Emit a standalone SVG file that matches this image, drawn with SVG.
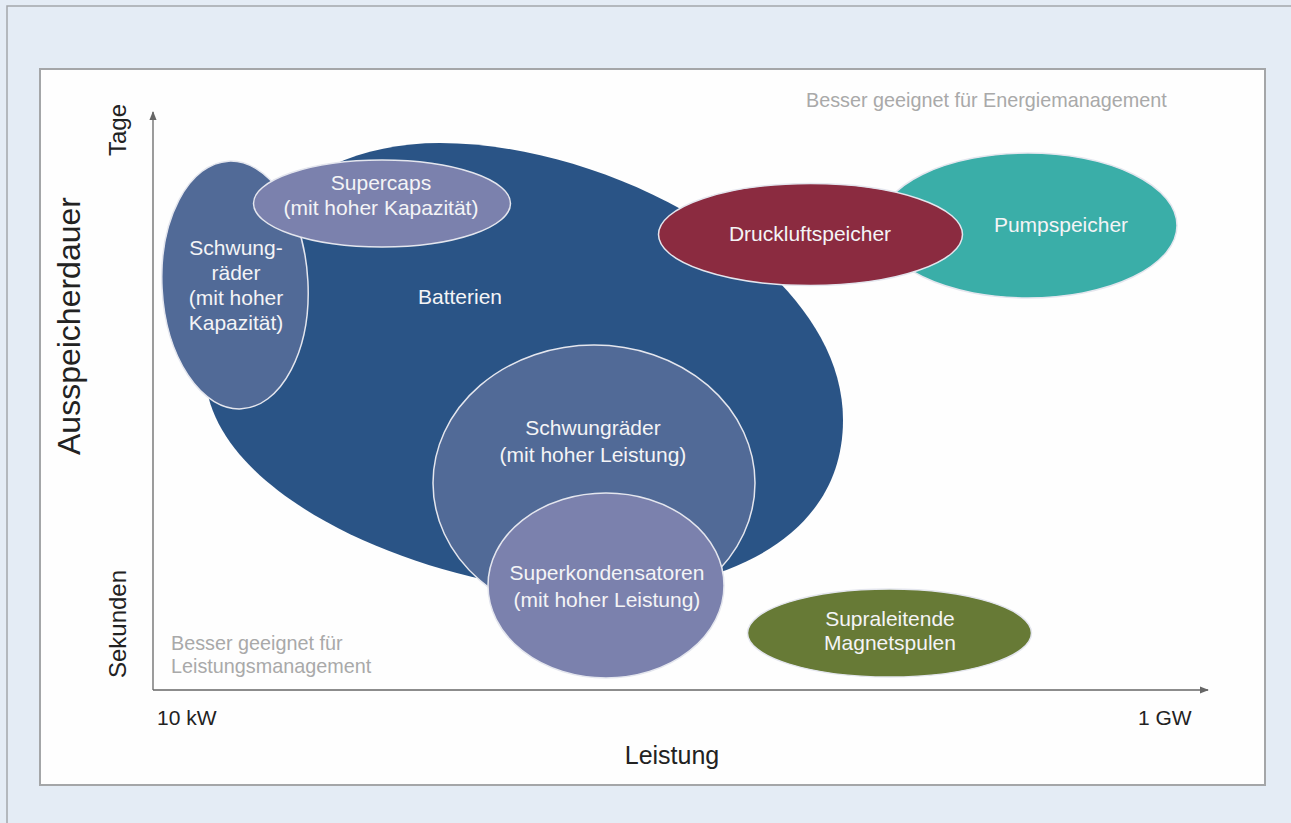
<svg xmlns="http://www.w3.org/2000/svg" width="1291" height="823" viewBox="0 0 1291 823">
<style>
text{font-family:"Liberation Sans",Arial,Helvetica,sans-serif}
.nt{fill:#f4f4f6;font-size:21px;text-anchor:middle}
.gt{fill:#a9a9a9;font-size:19.8px}
.ax{fill:#222;font-size:21px}
.big{font-size:32px}
.mid{font-size:24px}
.lei{font-size:25px}
.el{stroke:#e4e6ee;stroke-width:1.5}
</style>
<defs>
<marker id="ah" viewBox="0 0 10 10" refX="9" refY="5" markerWidth="9" markerHeight="9" markerUnits="userSpaceOnUse" orient="auto">
<path d="M0,1 L10,5 L0,9 Z" fill="#666"/>
</marker>
</defs>
<rect x="0" y="0" width="1291" height="823" fill="#e4ecf5"/>
<rect x="7" y="6" width="1290" height="822" fill="none" stroke="#a3a6aa" stroke-width="1.5"/>
<rect x="40" y="69" width="1225" height="716" fill="#fefefe" stroke="#a4a6a8" stroke-width="2"/>

<g id="axes">
<line x1="153" y1="690" x2="153" y2="112" stroke="#666" stroke-width="1.3" marker-end="url(#ah)"/>
<line x1="153" y1="690" x2="1208" y2="690" stroke="#666" stroke-width="1.3" marker-end="url(#ah)"/>
<text class="ax big" x="0" y="0" transform="translate(80,326) rotate(-90)" text-anchor="middle">Ausspeicherdauer</text>
<text class="ax mid" x="0" y="0" transform="translate(126,130) rotate(-90)" text-anchor="middle">Tage</text>
<text class="ax mid" x="0" y="0" transform="translate(126,624) rotate(-90)" text-anchor="middle">Sekunden</text>
<text class="ax" x="157" y="725">10 kW</text>
<text class="ax" x="1138" y="725">1 GW</text>
<text class="ax lei" x="672" y="764" text-anchor="middle">Leistung</text>
<text class="gt" x="806" y="107">Besser geeignet für Energiemanagement</text>
<text class="gt" x="171" y="650">Besser geeignet für</text>
<text class="gt" x="171" y="673">Leistungsmanagement</text>
</g>

<g id="batterien">
<path d="M440,143 C610,143 843,265 843,420 C843,535 730,592 590,592 C440,592 205,500 205,370 C205,240 300,143 440,143 Z" fill="#2a5486"/>
<text class="nt" x="460" y="304">Batterien</text>
</g>

<g id="schwung-kapazitaet">
<ellipse class="el" cx="235" cy="285" rx="73" ry="124" transform="rotate(-3 235 285)" fill="#516a97"/>
<text class="nt" x="236" y="255">Schwung-</text>
<text class="nt" x="236" y="280">räder</text>
<text class="nt" x="236" y="305">(mit hoher</text>
<text class="nt" x="236" y="330">Kapazität)</text>
</g>

<g id="supercaps">
<ellipse class="el" cx="382" cy="203.5" rx="128.5" ry="43.5" fill="#7b81ad"/>
<text class="nt" x="381" y="190">Supercaps</text>
<text class="nt" x="381" y="215">(mit hoher Kapazität)</text>
</g>

<g id="schwung-leistung">
<ellipse class="el" cx="594" cy="483" rx="161" ry="138" fill="#516a97"/>
<text class="nt" x="593" y="435">Schwungräder</text>
<text class="nt" x="593" y="462">(mit hoher Leistung)</text>
</g>

<g id="superkondensatoren">
<ellipse class="el" cx="606" cy="585.5" rx="118" ry="92.5" fill="#7b81ad"/>
<text class="nt" x="607" y="580">Superkondensatoren</text>
<text class="nt" x="607" y="607">(mit hoher Leistung)</text>
</g>

<g id="pumpspeicher">
<ellipse class="el" cx="1028" cy="225.5" rx="149" ry="72.5" fill="#3aaea8"/>
<text class="nt" x="1061" y="232">Pumpspeicher</text>
</g>

<g id="druckluftspeicher">
<ellipse class="el" cx="810.5" cy="234.5" rx="152" ry="51" fill="#8b2b40"/>
<text class="nt" x="810" y="241">Druckluftspeicher</text>
</g>

<g id="supraleitende">
<ellipse class="el" cx="889.5" cy="633" rx="142" ry="44" fill="#677a36"/>
<text class="nt" x="890" y="626">Supraleitende</text>
<text class="nt" x="890" y="650">Magnetspulen</text>
</g>
</svg>
